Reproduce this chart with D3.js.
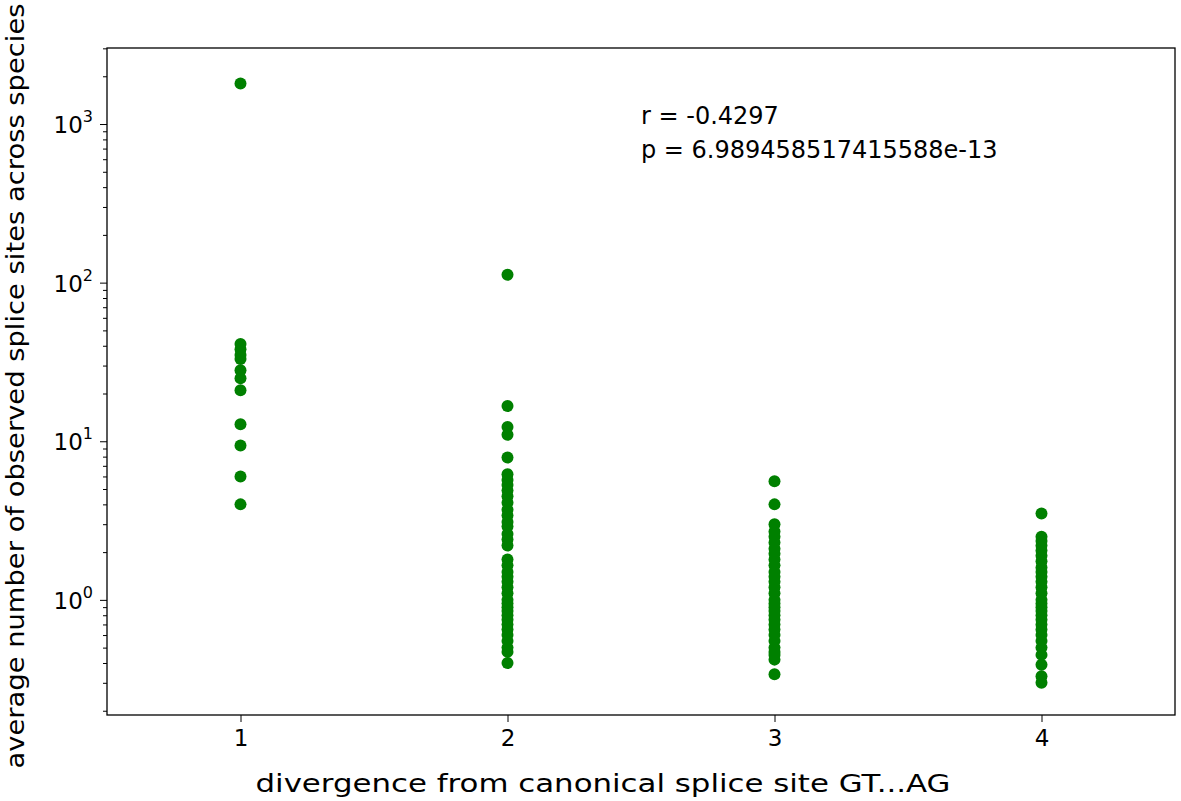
<!DOCTYPE html><html><head><meta charset="utf-8">
<script src="https://cdn.jsdelivr.net/npm/d3@7"></script>
<style>body{margin:0;background:#fff}text{font-family:"DejaVu Sans",sans-serif}</style></head><body>
<svg id="c" width="1181" height="801"></svg>
<script>
const divergence1=[1800,41,38,35,33,28,25,21,12.8,9.4,6.0,4.0];
const divergence2=[112,16.7,12.3,11,7.9,6.2,5.7,5.3,4.9,4.5,4.1,3.7,3.4,3.1,2.9,2.6,2.4,2.2,1.8,1.65,1.5,1.4,1.3,1.2,1.1,1.0,0.95,0.9,0.85,0.8,0.75,0.7,0.65,0.6,0.55,0.5,0.47,0.4];
const divergence3=[5.6,4.0,3.0,2.7,2.5,2.3,2.1,1.95,1.8,1.65,1.5,1.4,1.3,1.2,1.1,1.0,0.95,0.9,0.85,0.8,0.75,0.7,0.65,0.6,0.55,0.5,0.47,0.45,0.42,0.34];
const divergence4=[3.5,2.5,2.35,2.2,2.05,1.9,1.75,1.6,1.5,1.4,1.3,1.2,1.1,1.0,0.95,0.9,0.85,0.8,0.75,0.7,0.65,0.6,0.55,0.5,0.45,0.39,0.33,0.3];
const xTicks=[1,2,3,4];
const yTicks=[1,10,100,1000];
const stats=["r = -0.4297","p = 6.989458517415588e-13"];
const series=[divergence1,divergence2,divergence3,divergence4];
const L=107,R=1175,T=48,B=715;
const svg=d3.select("#c");
const x=d3.scaleLinear().domain([0.5,4.5]).range([L,R]);
const y=d3.scaleLog().domain([0.188,3015]).range([B,T]);
const pts=series.flatMap((s,i)=>s.map(v=>({x:i+1,v})));
svg.append("g").selectAll("circle").data(pts).join("circle")
 .attr("cx",d=>x(d.x)).attr("cy",d=>y(d.v)).attr("r",6).attr("fill","green");
const xa=svg.append("g").attr("transform",`translate(0,${B})`).call(d3.axisBottom(x).tickValues(xTicks).tickFormat(d3.format("d")).tickSize(7).tickPadding(8));
const ya=svg.append("g").attr("transform",`translate(${L},0)`).call(d3.axisLeft(y).tickValues(yTicks).tickFormat(()=>"").tickSize(7));
const minor=[];for(let e=-1;e<=3;e++)for(let k=2;k<=9;k++){const v=k*Math.pow(10,e);if(v>=0.188&&v<=3015)minor.push(v);}
svg.append("g").attr("transform",`translate(${L},0)`).call(d3.axisLeft(y).tickValues(minor).tickFormat(()=>"").tickSize(4)).select(".domain").remove();
[xa,ya].forEach(a=>{a.selectAll("text").attr("font-size",23).attr("fill","#000");a.selectAll("line").attr("stroke","#000");a.select(".domain").remove();});
yTicks.forEach((v,i)=>{const t=svg.append("text").attr("x",L-14).attr("y",y(v)+9).attr("text-anchor","end").attr("font-size",23);
 t.append("tspan").text("10");t.append("tspan").attr("dy",-11).attr("font-size",16).text(String(i));});
svg.append("rect").attr("x",L).attr("y",T).attr("width",R-L).attr("height",B-T).attr("fill","none").attr("stroke","#000").attr("stroke-width",1.3);
svg.append("text").attr("x",603).attr("y",792).attr("text-anchor","middle").attr("font-size",24).attr("textLength",695).attr("lengthAdjust","spacingAndGlyphs").text("divergence from canonical splice site GT...AG");
svg.append("text").attr("transform",`translate(24,386) rotate(-90)`).attr("text-anchor","middle").attr("font-size",24).attr("textLength",765).attr("lengthAdjust","spacingAndGlyphs").text("average number of observed splice sites across species");
stats.forEach((s,i)=>svg.append("text").attr("x",641).attr("y",124+i*34).attr("font-size",24).text(s));
</script></body></html>
